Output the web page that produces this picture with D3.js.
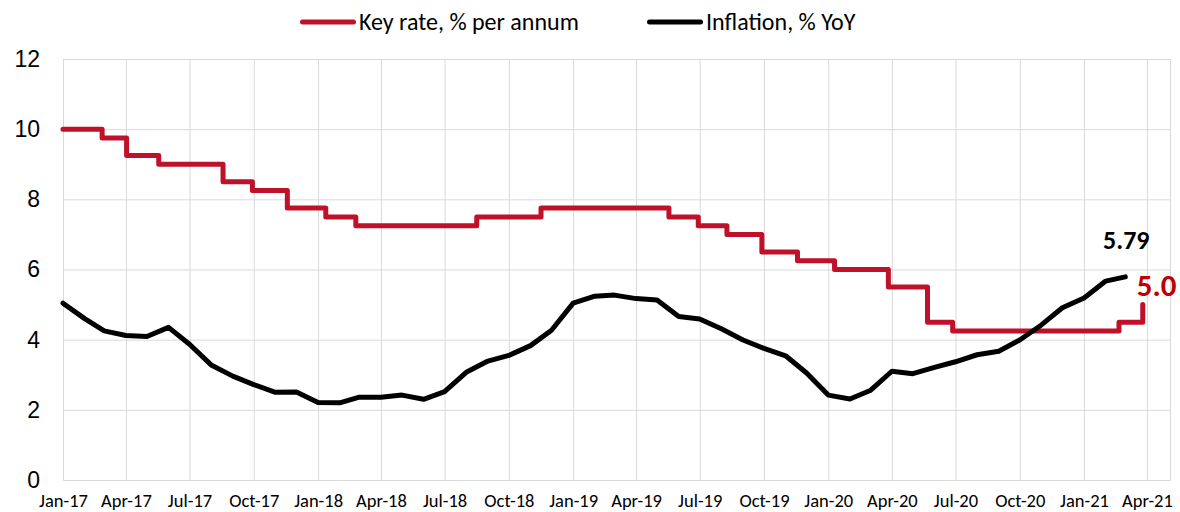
<!DOCTYPE html>
<html>
<head>
<meta charset="utf-8">
<script src="https://cdn.jsdelivr.net/npm/d3@7"></script>
<style>
  body { margin: 0; background: #fff; }
  svg { display: block; }
</style>
</head>
<body>
<svg id="chart"></svg>
<script>
// inflation, % YoY, monthly (first of month)
const inflationMonths = [
  "2017-01","2017-02","2017-03","2017-04","2017-05","2017-06","2017-07","2017-08","2017-09","2017-10","2017-11","2017-12",
  "2018-01","2018-02","2018-03","2018-04","2018-05","2018-06","2018-07","2018-08","2018-09","2018-10","2018-11","2018-12",
  "2019-01","2019-02","2019-03","2019-04","2019-05","2019-06","2019-07","2019-08","2019-09","2019-10","2019-11","2019-12",
  "2020-01","2020-02","2020-03","2020-04","2020-05","2020-06","2020-07","2020-08","2020-09","2020-10","2020-11","2020-12",
  "2021-01","2021-02","2021-03"
];
const inflationValues = [
  5.04, 4.60, 4.25, 4.12, 4.09, 4.35, 3.87, 3.28, 2.96, 2.72, 2.50, 2.51,
  2.21, 2.20, 2.36, 2.36, 2.42, 2.30, 2.52, 3.07, 3.39, 3.55, 3.83, 4.27,
  5.04, 5.24, 5.27, 5.17, 5.13, 4.66, 4.59, 4.31, 3.99, 3.75, 3.54, 3.05,
  2.42, 2.31, 2.55, 3.10, 3.03, 3.21, 3.37, 3.57, 3.67, 3.99, 4.42, 4.91,
  5.19, 5.67, 5.79
];

// key rate, % per annum: date each level starts
const rateDates = [
  "2017-01-01","2017-02-26","2017-04-02","2017-05-18","2017-08-18","2017-09-29",
  "2017-11-18","2018-01-12","2018-02-24","2018-08-16","2018-11-16","2019-05-18",
  "2019-06-29","2019-08-09","2019-09-28","2019-11-18","2020-01-10","2020-03-27",
  "2020-05-22","2020-06-27","2021-02-20","2021-03-26"
];
const rateValues = [
  10, 9.75, 9.25, 9, 8.5, 8.25,
  7.75, 7.5, 7.25, 7.5, 7.75, 7.5,
  7.25, 7, 6.5, 6.25, 6, 5.5,
  4.5, 4.25, 4.5, 5
];

const xTicks = [
  "2017-01","2017-04","2017-07","2017-10","2018-01","2018-04","2018-07","2018-10",
  "2019-01","2019-04","2019-07","2019-10","2020-01","2020-04","2020-07","2020-10",
  "2021-01","2021-04"
];
const yTicks = [0, 2, 4, 6, 8, 10, 12];

const seriesNames = ["Key rate, % per annum", "Inflation, % YoY"];
const rateColor = "#c0112b";
const inflColor = "#000000";

const W = 1180, H = 512;
const margin = { left: 63, right: 10, top: 59, bottom: 32 };
const calibri = "Carlito, Calibri, Lato, sans-serif";

const parseMonth = d3.timeParse("%Y-%m");
const parseDay = d3.timeParse("%Y-%m-%d");

const inflation = inflationMonths.map((m, i) => ({ date: parseMonth(m), value: inflationValues[i] }));
const rate = rateDates.map((d, i) => ({ date: parseDay(d), value: rateValues[i] }));

const svg = d3.select("#chart").attr("width", W).attr("height", H);

const x = d3.scaleTime()
  .domain([parseDay("2017-01-01"), parseDay("2021-05-04")])
  .range([margin.left, W - margin.right]);
const y = d3.scaleLinear()
  .domain([0, 12])
  .range([H - margin.bottom, margin.top]);

const grid = "#d9d9d9";

// horizontal grid
svg.append("g")
  .attr("transform", `translate(${margin.left},0)`)
  .call(d3.axisLeft(y).tickValues(yTicks).tickSize(-(W - margin.right - margin.left)).tickFormat(""))
  .call(g => g.select(".domain").remove())
  .call(g => g.selectAll("line").attr("stroke", grid));

// vertical grid
svg.append("g")
  .attr("transform", `translate(0,${H - margin.bottom})`)
  .call(d3.axisBottom(x).tickValues(xTicks.map(parseMonth)).tickSize(-(H - margin.bottom - margin.top)).tickFormat(""))
  .call(g => g.select(".domain").remove())
  .call(g => g.selectAll("line").attr("stroke", grid));

// plot border
svg.append("rect")
  .attr("x", margin.left + 0.5)
  .attr("y", margin.top + 0.5)
  .attr("width", W - margin.right - margin.left)
  .attr("height", H - margin.bottom - margin.top)
  .attr("fill", "none")
  .attr("stroke", grid);

// y labels
svg.append("g")
  .attr("transform", `translate(${margin.left},0)`)
  .call(d3.axisLeft(y).tickValues(yTicks).tickSize(0).tickPadding(23))
  .call(g => g.select(".domain").remove())
  .call(g => g.selectAll("text")
    .attr("font-family", "'Liberation Sans', Arial, sans-serif")
    .attr("font-size", 23)
    .attr("fill", "#000"));

// x labels
svg.append("g")
  .attr("transform", `translate(0,${H - margin.bottom})`)
  .call(d3.axisBottom(x).tickValues(xTicks.map(parseMonth)).tickSize(0).tickPadding(14).tickFormat(d3.timeFormat("%b-%y")))
  .call(g => g.select(".domain").remove())
  .call(g => g.selectAll("text")
    .attr("font-family", calibri)
    .attr("font-size", 18.5)
    .attr("fill", "#000"));

// lines
const rateLine = d3.line().x(d => x(d.date)).y(d => y(d.value)).curve(d3.curveStepAfter);
const inflLine = d3.line().x(d => x(d.date)).y(d => y(d.value));

svg.append("path")
  .datum(rate)
  .attr("d", rateLine)
  .attr("fill", "none")
  .attr("stroke", rateColor)
  .attr("stroke-width", 5)
  .attr("stroke-linejoin", "round")
  .attr("stroke-linecap", "round");

svg.append("path")
  .datum(inflation)
  .attr("d", inflLine)
  .attr("fill", "none")
  .attr("stroke", inflColor)
  .attr("stroke-width", 5)
  .attr("stroke-linejoin", "round")
  .attr("stroke-linecap", "round");

// end labels
const lastInfl = inflation[inflation.length - 1];
const lastRate = rate[rate.length - 1];

svg.append("text")
  .attr("x", x(lastInfl.date) + 1)
  .attr("y", y(lastInfl.value) - 28)
  .attr("text-anchor", "middle")
  .attr("font-family", calibri)
  .attr("font-weight", "bold")
  .attr("font-size", 26)
  .attr("fill", "#000")
  .text(lastInfl.value.toFixed(2));

svg.append("text")
  .attr("x", x(lastRate.date) - 6)
  .attr("y", y(lastRate.value) - 9)
  .attr("font-family", calibri)
  .attr("font-weight", "bold")
  .attr("font-size", 31)
  .attr("fill", "#c00000")
  .text(lastRate.value.toFixed(1));

// legend
const legend = svg.append("g");
const legendItems = [
  { name: seriesNames[0], color: rateColor, x0: 300, tx: 359 },
  { name: seriesNames[1], color: inflColor, x0: 647, tx: 706 }
];
legendItems.forEach(it => {
  legend.append("line")
    .attr("x1", it.x0 + 2.5).attr("x2", it.x0 + 53.5)
    .attr("y1", 22).attr("y2", 22)
    .attr("stroke", it.color)
    .attr("stroke-width", 5)
    .attr("stroke-linecap", "round");
  legend.append("text")
    .attr("x", it.tx)
    .attr("y", 30)
    .attr("font-family", calibri)
    .attr("font-size", 24)
    .attr("fill", "#000")
    .text(it.name);
});
</script>
</body>
</html>
